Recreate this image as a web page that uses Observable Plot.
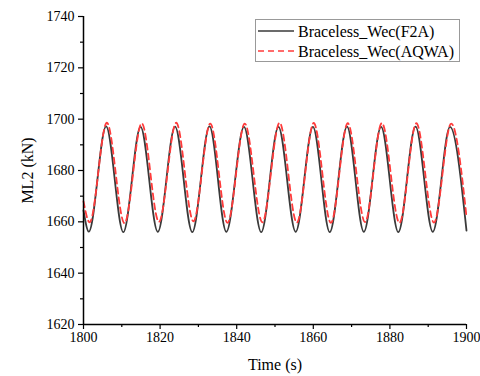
<!DOCTYPE html>
<html><head><meta charset="utf-8">
<script src="https://cdn.jsdelivr.net/npm/d3@7"></script>
<script src="https://cdn.jsdelivr.net/npm/@observablehq/plot@0.6"></script>
<style>body{margin:0;background:#fff;} svg{font-family:"Liberation Serif","Times New Roman",serif;}</style>
</head><body><div id="chart"></div>
<script>
// Extrema (time s, load kN)
const f2aTime = [1800, 1801.4, 1805.9, 1810.4, 1814.9, 1819.4, 1823.9, 1828.4, 1832.9, 1837.3, 1841.9, 1846.4, 1850.9, 1855.4, 1859.9, 1864.3, 1868.8, 1873.2, 1877.7, 1882.2, 1886.7, 1891.2, 1895.7, 1900];
const f2aLoad = [1664.5, 1656.2, 1697.2, 1656.0, 1697.0, 1656.1, 1697.1, 1656.0, 1697.2, 1656.1, 1697.0, 1656.0, 1697.0, 1656.1, 1697.0, 1656.0, 1697.1, 1656.1, 1697.0, 1656.0, 1697.1, 1656.1, 1697.0, 1656.6];
const aqwaTime = [1800, 1801.6, 1806.1, 1810.7, 1815.2, 1819.7, 1824.2, 1828.7, 1833.1, 1837.6, 1842.1, 1846.7, 1851.2, 1855.7, 1860.1, 1864.6, 1869.0, 1873.5, 1877.9, 1882.5, 1886.9, 1891.5, 1896.0, 1900];
const aqwaLoad = [1668, 1659.8, 1698.6, 1659.5, 1698.4, 1660.0, 1698.6, 1660.2, 1698.3, 1659.6, 1698.3, 1659.8, 1698.6, 1659.7, 1698.5, 1659.6, 1698.4, 1659.9, 1698.5, 1659.6, 1698.4, 1659.7, 1698.3, 1662];
const seriesNames = ["Braceless_Wec(F2A)", "Braceless_Wec(AQWA)"];
const xMajor = [1800, 1820, 1840, 1860, 1880, 1900];
const xMinor = [1810, 1830, 1850, 1870, 1890];
const yMajor = [1620, 1640, 1660, 1680, 1700, 1720, 1740];
const yMinor = [1630, 1650, 1670, 1690, 1710, 1730];

const f2a = f2aTime.map((t, i) => ({t, v: f2aLoad[i]}));
const aqwa = aqwaTime.map((t, i) => ({t, v: aqwaLoad[i]}));

const plot = Plot.plot({
  width: 480, height: 376,
  marginLeft: 83, marginRight: 14, marginTop: 16, marginBottom: 52,
  style: {fontFamily: "'Liberation Serif','Times New Roman',serif", fontSize: "14px", color: "#000", background: "#fff"},
  x: {domain: [1800, 1900]},
  y: {domain: [1620, 1740]},
  marks: [
    Plot.line(f2a, {x: "t", y: "v", curve: "monotone-x", stroke: "#3a3a3a", strokeWidth: 1.8}),
    Plot.line(aqwa, {x: "t", y: "v", curve: "monotone-x", stroke: "#ff3b3b", strokeWidth: 1.8, strokeDasharray: "6,4"}),
    Plot.axisX({ticks: xMinor, tickSize: 3, tickFormat: () => "", strokeWidth: 1.2, label: null}),
    Plot.axisX({ticks: xMajor, tickSize: 5, tickPadding: 3, strokeWidth: 1.2, fontSize: 14, tickFormat: d => String(d), label: "Time (s)", labelAnchor: "center", labelArrow: "none", labelOffset: 45}),
    Plot.axisY({ticks: yMinor, tickSize: 3, tickFormat: () => "", strokeWidth: 1.2, label: null}),
    Plot.axisY({ticks: yMajor, tickSize: 5, tickPadding: 4, strokeWidth: 1.2, fontSize: 14, tickFormat: d => String(d), label: "ML2 (kN)", labelAnchor: "center", labelArrow: "none", labelOffset: 62}),
    Plot.ruleX([1800], {stroke: "#000", strokeWidth: 1.5}),
    Plot.ruleY([1620], {stroke: "#000", strokeWidth: 1.5})
  ]
});
document.getElementById("chart").appendChild(plot);

d3.select(plot).selectAll("g[aria-label='x-axis label'] text, g[aria-label='y-axis label'] text").style("font-size", "16px");

// Legend
const svg = d3.select(plot);
const lg = svg.append("g").attr("text-anchor", "start");
lg.append("rect").attr("x", 255.5).attr("y", 19.5).attr("width", 204).attr("height", 42).attr("fill", "#fff").attr("stroke", "#999").attr("stroke-width", 1);
const styles = [{stroke: "#3a3a3a", dash: null}, {stroke: "#ff3b3b", dash: "6,4"}];
seriesNames.forEach((name, i) => {
  const y = 31 + i * 20;
  lg.append("line").attr("x1", 258).attr("x2", 294).attr("y1", y).attr("y2", y)
    .attr("stroke", styles[i].stroke).attr("stroke-width", 1.6).attr("stroke-dasharray", styles[i].dash);
  lg.append("text").attr("x", 298).attr("y", y).attr("dy", "0.35em").attr("font-size", 16).attr("text-anchor", "start").attr("fill", "#000").text(name);
});
</script></body></html>
